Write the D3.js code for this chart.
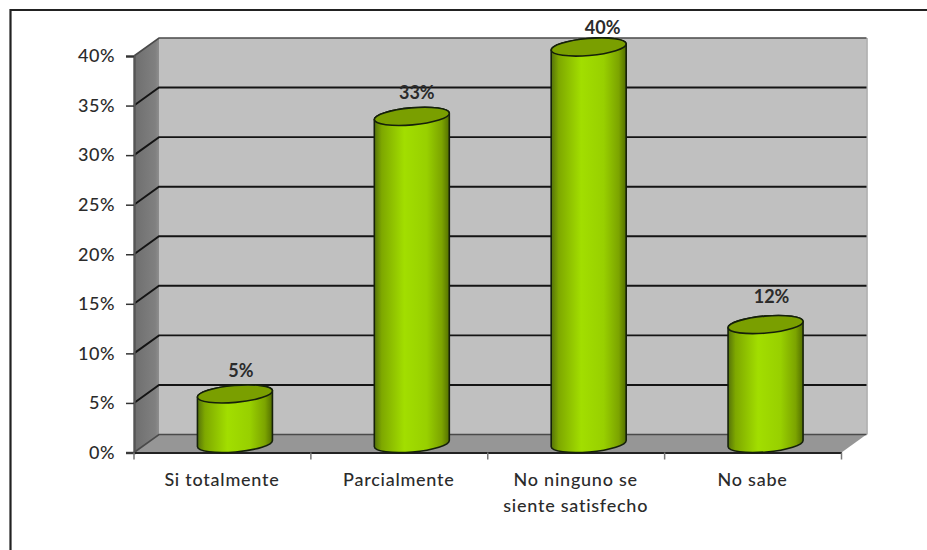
<!DOCTYPE html>
<html>
<head>
<meta charset="utf-8">
<script src="https://cdnjs.cloudflare.com/ajax/libs/d3/7.8.5/d3.min.js"></script>
<style>
  html, body { margin: 0; padding: 0; background: #fff; }
  svg { display: block; }
  text { font-family: Lato, "Open Sans", sans-serif; fill: #2b2b2b; }
</style>
</head>
<body>
<svg id="chart" width="927" height="550"></svg>
<script>
// Chart data
const categories = ["Si totalmente", "Parcialmente", "No ninguno se|siente satisfecho", "No sabe"];
const shares = [5, 33, 40, 12];
const shareTicks = [0, 5, 10, 15, 20, 25, 30, 35, 40];

// Layout of the 3D box: front plane plus the shift to the back wall
const frontLeft = 134, frontRight = 841.5, frontBottom = 452.5, frontTop = 56;
const depthX = 25, depthY = -18;
const barWidth = 75, capRy = 8.5, capTilt = -5;
const labelNudgeX = [6, 5, 14, 6];
const labelNudgeY = [-32, -32, -28, -37];

const svg = d3.select("#chart");
const x = d3.scaleBand().domain(categories).range([frontLeft, frontRight]);
const y = d3.scaleLinear().domain([0, 40]).range([frontBottom, frontTop]);

const defs = svg.append("defs");
const bodyGrad = defs.append("linearGradient").attr("id", "cyl");
[[0, "#55720a"], [0.1, "#7ea800"], [0.4, "#a2de00"], [0.7, "#98d000"], [0.9, "#7ca400"], [1, "#536f00"]]
  .forEach(([o, c]) => bodyGrad.append("stop").attr("offset", o).attr("stop-color", c));
const wallGrad = defs.append("linearGradient").attr("id", "wallSide");
[[0, "#6e6e6e"], [0.85, "#808080"], [1, "#8e8e8e"]]
  .forEach(([o, c]) => wallGrad.append("stop").attr("offset", o).attr("stop-color", c));

// Page frame
svg.append("path").attr("d", "M10.5,550V10H927").attr("fill", "none").attr("stroke", "#222").attr("stroke-width", 2.2);

// Back wall, side wall and floor
const backLeft = frontLeft + depthX, backRight = frontRight + depthX;
svg.append("rect").attr("x", backLeft).attr("y", frontTop + depthY)
  .attr("width", backRight - backLeft).attr("height", frontBottom - frontTop)
  .attr("fill", "#c0c0c0");
svg.append("path")
  .attr("d", `M${frontLeft},${frontTop}L${backLeft},${frontTop + depthY}V${frontBottom + depthY}L${frontLeft},${frontBottom}Z`)
  .attr("fill", "url(#wallSide)");
svg.append("path")
  .attr("d", `M${frontLeft},${frontBottom}L${backLeft},${frontBottom + depthY}H${backRight}L${frontRight},${frontBottom}Z`)
  .attr("fill", "#969696");
svg.append("line").attr("x1", backRight + 0.5).attr("x2", backRight + 0.5)
  .attr("y1", frontTop + depthY).attr("y2", frontBottom + depthY)
  .attr("stroke", "#a6a6a6").attr("stroke-width", 1.5);

// Gridlines wrap from the front edge across the side wall onto the back wall
const isEdgeTick = t => t === 0 || t === 40;
svg.append("g").selectAll("path").data(shareTicks).join("path")
  .attr("fill", "none")
  .attr("d", t => `M${frontLeft},${y(t)}L${backLeft},${y(t) + depthY}H${backRight}`)
  .attr("stroke", t => isEdgeTick(t) ? "#4a4a4a" : "#141414")
  .attr("stroke-width", t => isEdgeTick(t) ? 1.6 : 1.9);

// Value axis
const yAxis = svg.append("g").attr("transform", `translate(${frontLeft},0)`)
  .call(d3.axisLeft(y).tickValues(shareTicks).tickSize(8).tickPadding(11).tickFormat(d => d + "%"));
yAxis.select(".domain").attr("stroke", "#555").attr("stroke-width", 2.4);
yAxis.selectAll(".tick line").attr("stroke", "#333").attr("stroke-width", 1.5);
yAxis.selectAll("text").attr("font-size", 18).attr("font-weight", 500).attr("fill", "#333").attr("letter-spacing", 0.5);

// Category axis
const xAxis = svg.append("g").attr("transform", `translate(0,${frontBottom})`)
  .call(d3.axisBottom(x).tickSize(0).tickFormat(""));
xAxis.select(".domain").attr("stroke", "#222").attr("stroke-width", 2);
const edges = categories.map(c => x(c)).concat(frontRight);
xAxis.selectAll(".edge").data(edges).join("line").attr("class", "edge")
  .attr("x1", d => d).attr("x2", d => d).attr("y1", 0).attr("y2", 7)
  .attr("stroke", "#777").attr("stroke-width", 1.5);

const catLabels = svg.append("g").selectAll("text").data(categories).join("text")
  .attr("text-anchor", "middle")
  .attr("font-size", 18).attr("font-weight", 500).attr("letter-spacing", 0.75)
  .attr("transform", c => `translate(${x(c) + x.bandwidth() / 2 - 0.5},486)`);
catLabels.selectAll("tspan").data(c => c.split("|")).join("tspan")
  .attr("x", 0).attr("dy", (d, i) => i ? 26 : 0).text(d => d);

// Cylinders, standing halfway into the depth of the box
const rad = capTilt * Math.PI / 180;
const rx = barWidth / 2 / Math.cos(rad);
const sx = barWidth / 2, sy = rx * Math.sin(rad);
const bars = svg.append("g").selectAll("g").data(shares).join("g")
  .attr("transform", (d, i) => `translate(${x(categories[i]) + x.bandwidth() / 2 + depthX / 2},0)`);

const ends = d => ({ top: y(d) + depthY / 2, base: y(0) + depthY / 2 });
bars.append("path")
  .attr("fill", "url(#cyl)").attr("stroke", "#15200a").attr("stroke-width", 1.6)
  .attr("d", d => {
    const { top, base } = ends(d);
    return `M${-sx},${top - sy}A${rx},${capRy} ${capTilt} 0 1 ${sx},${top + sy}` +
           `V${base + sy}A${rx},${capRy} ${capTilt} 0 1 ${-sx},${base - sy}Z`;
  });
bars.append("ellipse")
  .attr("rx", rx).attr("ry", capRy)
  .attr("transform", d => `translate(0,${ends(d).top}) rotate(${capTilt})`)
  .attr("fill", "#7a9f00").attr("stroke", "#15200a").attr("stroke-width", 1.6);

// Value labels above each cylinder
svg.append("g").selectAll("text").data(shares).join("text")
  .attr("text-anchor", "middle").attr("font-size", 18).attr("font-weight", 700)
  .attr("x", (d, i) => x(categories[i]) + x.bandwidth() / 2 + depthX / 2 + labelNudgeX[i])
  .attr("y", (d, i) => y(d) + labelNudgeY[i] + 6)
  .text(d => d + "%");
</script>
</body>
</html>
